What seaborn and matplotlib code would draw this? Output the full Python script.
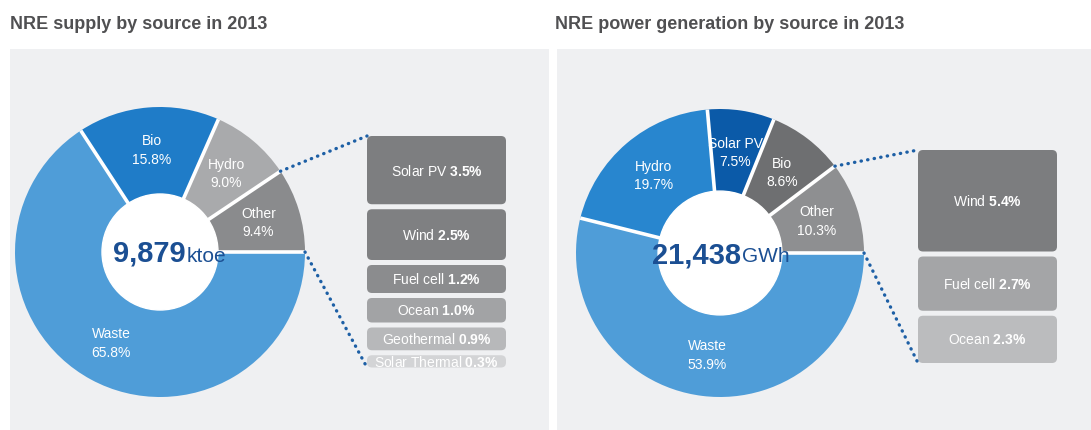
import matplotlib
matplotlib.use("Agg")
import numpy as np
import seaborn as sns
from matplotlib import pyplot as plt
from matplotlib.patches import FancyBboxPatch, Rectangle, Circle

# Data -------------------------------------------------------------------------------------------

titles = ["NRE supply by source in 2013", "NRE power generation by source in 2013"]

supply_sources = ["Other", "Hydro", "Bio", "Waste"]
supply_share = [9.4, 9.0, 15.8, 65.8]
supply_other_sources = ["Solar PV", "Wind", "Fuel cell", "Ocean", "Geothermal", "Solar Thermal"]
supply_other_share = [3.5, 2.5, 1.2, 1.0, 0.9, 0.3]
supply_total = "9,879"
supply_unit = "ktoe"

power_sources = ["Other", "Bio", "Solar PV", "Hydro", "Waste"]
power_share = [10.3, 8.6, 7.5, 19.7, 53.9]
power_other_sources = ["Wind", "Fuel cell", "Ocean"]
power_other_share = [5.4, 2.7, 2.3]
power_total = "21,438"
power_unit = "GWh"

# Style ------------------------------------------------------------------------------------------

sns.set_theme(style="white")
plt.rcParams["font.family"] = ["Liberation Sans", "DejaVu Sans"]
plt.rcParams["mathtext.fontset"] = "custom"
plt.rcParams["mathtext.rm"] = "Liberation Sans"
plt.rcParams["mathtext.bf"] = "Liberation Sans:bold"

W, H = 1091, 431
panel_bg = "#eff0f2"
dot_blue = "#1d5fa5"
num_blue = "#1b4f93"
light_blue = "#4f9dd8"

supply_colors = ["#8a8b8d", "#a9aaac", "#1f7cc8", light_blue]
supply_box_colors = ["#7d7e80", "#7f8082", "#8b8c8e", "#a2a3a5", "#b7b8ba", "#d3d4d6"]
power_colors = ["#8e8f91", "#6e6f71", "#0b5aa8", "#2886cf", light_blue]
power_box_colors = ["#7c7d7f", "#a4a5a7", "#bbbcbe"]

fig = plt.figure(figsize=(W / 100, H / 100), dpi=100)
ax = fig.add_axes([0, 0, 1, 1])
ax.set_xlim(0, W)
ax.set_ylim(0, H)
renderer = fig.canvas.get_renderer()


def donut(values, names, colors, cx, cy, r, hole, total, unit, shift):
    cy = H - cy
    wedges, _ = ax.pie(values, colors=colors, startangle=0, counterclock=True,
                       center=(cx, cy), radius=r, wedgeprops=dict(linewidth=0))
    # white separators between the slices
    for w in wedges:
        a = np.deg2rad(w.theta1)
        ax.plot([cx, cx + r * np.cos(a)], [cy, cy + r * np.sin(a)], color="white",
                lw=2.6, zorder=2, solid_capstyle="butt")
    ax.add_patch(Circle((cx, cy), r * hole, color="white", zorder=3))
    for w, name, v in zip(wedges, names, values):
        mid = np.deg2rad((w.theta1 + w.theta2) / 2)
        ax.text(cx + 0.71 * r * np.cos(mid), cy + 0.71 * r * np.sin(mid),
                f"{name}\n{v:.1f}%", color="white", fontsize=10, ha="center",
                va="center", linespacing=1.4, zorder=4)
    t1 = ax.text(0, cy - 1, total, color=num_blue, fontsize=21, fontweight="bold",
                 ha="left", va="center", zorder=4)
    t2 = ax.text(0, cy - 3, unit, color=num_blue, fontsize=15,
                 ha="left", va="center", zorder=4)
    w1 = t1.get_window_extent(renderer).width
    w2 = t2.get_window_extent(renderer).width
    x0 = cx + shift - (w1 + w2) / 2
    t1.set_x(x0)
    t2.set_x(x0 + w1 + 1)
    return wedges


def breakout(values, names, colors, x0, x1, top):
    y = H - top
    for v, name, c in zip(values, names, colors):
        h = 17.5 * v + 7
        ax.add_patch(FancyBboxPatch((x0, y - h), x1 - x0, h,
                                    boxstyle="round,pad=0,rounding_size=5",
                                    fc=c, ec="none", zorder=2))
        ax.text((x0 + x1) / 2, y - h / 2, f"{name} $\\mathbf{{{v:.1f}\\%}}$", color="white",
                fontsize=10, ha="center", va="center", zorder=3)
        y -= h + 5
    return y + 5


def dotted(p0, p1):
    ax.plot([p0[0], p1[0]], [p0[1], p1[1]], color=dot_blue, lw=2.4,
            linestyle=(0, (0.1, 1.9)), dash_capstyle="round", zorder=5)


# panels
ax.add_patch(Rectangle((10, 0), 539, H - 50, fc=panel_bg, ec="none", zorder=0))
ax.add_patch(Rectangle((557, 0), 534, H - 50, fc=panel_bg, ec="none", zorder=0))

# left: supply
cx, cy, r = 160, 253, 145
w = donut(supply_share, supply_sources, supply_colors, cx, cy, r, 0.40,
          supply_total, supply_unit, 9)
bottom = breakout(supply_other_share, supply_other_sources, supply_box_colors, 367, 506, 137)
a = np.deg2rad(w[0].theta2)
dotted((cx + r * np.cos(a), H - cy + r * np.sin(a)), (367, H - 137))
dotted((cx + r, H - cy), (367, bottom))

# right: power generation
cx, cy, r = 720, 254, 144
w = donut(power_share, power_sources, power_colors, cx, cy, r, 0.43,
          power_total, power_unit, 0)
bottom = breakout(power_other_share, power_other_sources, power_box_colors, 918, 1057, 151)
a = np.deg2rad(w[0].theta2)
dotted((cx + r * np.cos(a), H - cy + r * np.sin(a)), (918, H - 151))
dotted((cx + r, H - cy), (918, bottom))

# titles
for x, t in zip([10, 555], titles):
    ax.text(x, H - 24, t, color="#505052", fontsize=13, fontweight="bold",
            ha="left", va="center")

ax.set_xlim(0, W)
ax.set_ylim(0, H)
ax.set_aspect("auto")
ax.axis("off")

fig.savefig("out.png", dpi=100)
